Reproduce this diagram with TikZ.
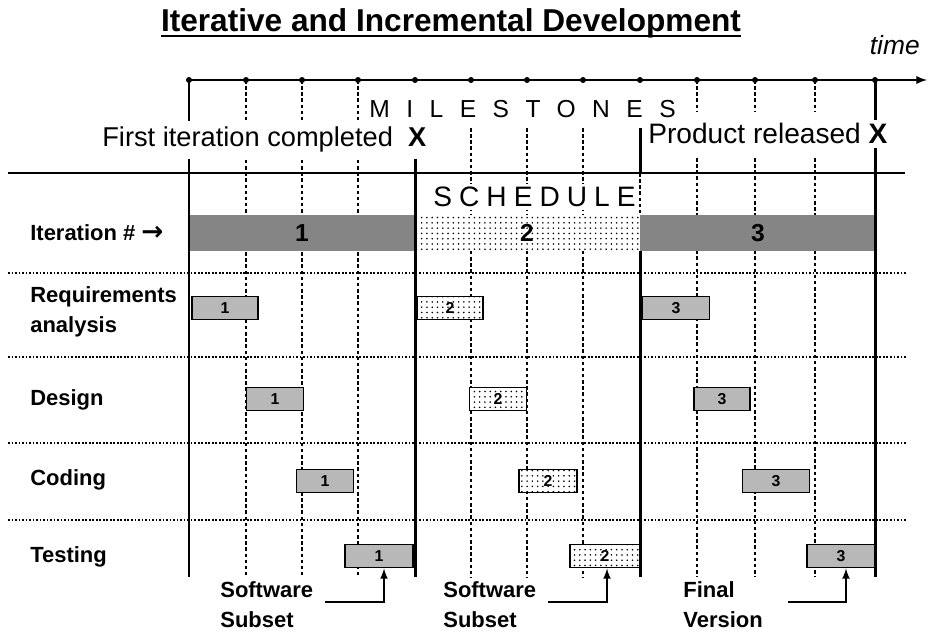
\documentclass[tikz,border=0pt]{standalone}
\usepackage{fontspec}
\setmainfont{Liberation Sans}
\newfontfamily\milefont[LetterSpace=67]{Liberation Sans}
\newfontfamily\schedfont[LetterSpace=25]{Liberation Sans}
\newfontfamily\arrowfont{DejaVu Sans}
\usetikzlibrary{patterns}
\newdimen\px
\px=0.02cm

\begin{document}
\begin{tikzpicture}[x = 0.02cm, y = -0.02cm,
  major/.style = {black, line width = 1.7pt},
  minor/.style = {black, line width = 0.6pt, dash pattern = on 2pt off 1.5pt},
  rowline/.style = {black, line width = 0.8pt, dash pattern = on 1pt off 1pt},
  rowlabel/.style = {black, anchor = west, align = left, inner sep = 0pt, font = \bfseries\fontsize{12.5}{17}\selectfont},
  bigtext/.style = {black, fill = white, inner xsep = 2\px, inner ysep = 4\px, font = \fontsize{15.5}{16}\selectfont},
  darkbar/.style = {fill = black!48, minimum height = 36\px, inner sep = 0pt, font = \bfseries\fontsize{14}{14}\selectfont},
  dotbar/.style = {preaction = {fill = white}, pattern = dots, minimum height = 36\px, inner sep = 0pt, font = \bfseries\fontsize{14}{14}\selectfont},
  graybox/.style = {draw, line width = 1.1pt, fill = black!28, minimum height = 23\px, inner sep = 0pt, font = \bfseries\fontsize{9}{9}\selectfont},
  dotbox/.style = {draw, line width = 1.1pt, preaction = {fill = white}, pattern = dots, minimum height = 23\px, inner sep = 0pt, font = \bfseries\fontsize{9}{9}\selectfont},
  outarrow/.style = {black, line width = 1pt, -latex}]
\useasboundingbox (0,0) rectangle (929,634);

\node[black, anchor = base, inner sep = 0pt, font = \bfseries\fontsize{18}{18}\selectfont] (title) at (451,32) {Iterative and Incremental Development};
\draw[black, line width = 1.2pt] ([yshift = -4\px]title.base west) -- ([yshift = -4\px]title.base east);
\node[black, anchor = base east, inner sep = 0pt, font = \itshape\fontsize{15}{15}\selectfont] (time) at (920,55) {time};

\foreach \x in {246,302,358} \draw[minor] (\x,80) -- (\x,577);
\foreach \x in {697,755,815} \draw[minor] (\x,80) -- (\x,111) (\x,158) -- (\x,577);
\foreach \x in {471,527,583} \draw[minor] (\x,128) -- (\x,577);
\foreach \y in {273,357,443,520} \draw[rowline] (8,\y) -- (907,\y);
\draw[black, line width = 1.1pt] (8,173) -- (905,173);

\draw[black, line width = 1.1pt, -latex] (188,80) -- (927,80);
\foreach \x in {189,246,302,358,415,471,527,583,640,697,755,815,875}
  \fill[black] (\x,80) circle [radius = 0.06cm];

\node[darkbar, minimum width = 225\px] (it1) at (302,233) {1};
\node[dotbar, minimum width = 225\px] (it2) at (527,233) {2};
\node[darkbar, minimum width = 236\px] (it3) at (758,233) {3};

\node[graybox, minimum width = 66\px] (req1) at (225,308) {1};
\node[dotbox, minimum width = 66\px] (req2) at (450,308) {2};
\node[graybox, minimum width = 67\px] (req3) at (676,308) {3};
\node[graybox, minimum width = 57\px] (des1) at (275,399) {1};
\node[dotbox, minimum width = 57\px] (des2) at (498,399) {2};
\node[graybox, minimum width = 56\px] (des3) at (722,399) {3};
\node[graybox, minimum width = 57\px] (cod1) at (325,481) {1};
\node[dotbox, minimum width = 58\px] (cod2) at (548,481) {2};
\node[graybox, minimum width = 67\px] (cod3) at (776,481) {3};
\node[graybox, minimum width = 68\px] (tst1) at (379,556) {1};
\node[dotbox, minimum width = 70\px] (tst2) at (605,556) {2};
\node[graybox, minimum width = 68\px] (tst3) at (841,556) {3};

\foreach \x in {189,875} \draw[major] (\x,80) -- (\x,577);
\draw[major] (415,150) -- (415,577);
\draw[major] (640,128) -- (640,173) (640,251) -- (640,577);
\draw[minor] (640,173) -- (640,215);

\node[bigtext, anchor = base west, inner ysep = 6\px] (first) at (100,147) {First iteration completed\ \ \textbf{X}};
\node[bigtext, anchor = base west, font = \fontsize{16}{16}\selectfont] (product) at (646,144) {Product released \textbf{X}};
\node[black, anchor = base west, inner sep = 0pt, font = \milefont\fontsize{14}{14}\selectfont] (miles) at (369,118) {MILESTONES};
\node[black, fill = white, anchor = base west, inner sep = 3\px, font = \schedfont\fontsize{16}{16}\selectfont] (sched) at (430,207) {SCHEDULE};

\node[rowlabel] (lit) at (30,233) {Iteration \# {\arrowfont\fontsize{15}{15}\selectfont →}};
\node[rowlabel] (lreq) at (30,312) {Requirements\\analysis};
\node[rowlabel] (ldes) at (30,400) {Design};
\node[rowlabel] (lcod) at (30,480) {Coding};
\node[rowlabel] (ltst) at (30,557) {Testing};

\node[rowlabel] (sub1) at (220,605) {Software\\Subset};
\node[rowlabel] (sub2) at (443,605) {Software\\Subset};
\node[rowlabel] (final) at (683,605) {Final\\Version};
\coordinate (s1) at (325,602);
\coordinate (s2) at (548,602);
\coordinate (s3) at (788,602);
\draw[outarrow] (s1) -| ([xshift = 5\px]tst1.south);
\draw[outarrow] (s2) -| ([xshift = 2\px]tst2.south);
\draw[outarrow] (s3) -| ([xshift = 5\px]tst3.south);
\end{tikzpicture}
\end{document}
